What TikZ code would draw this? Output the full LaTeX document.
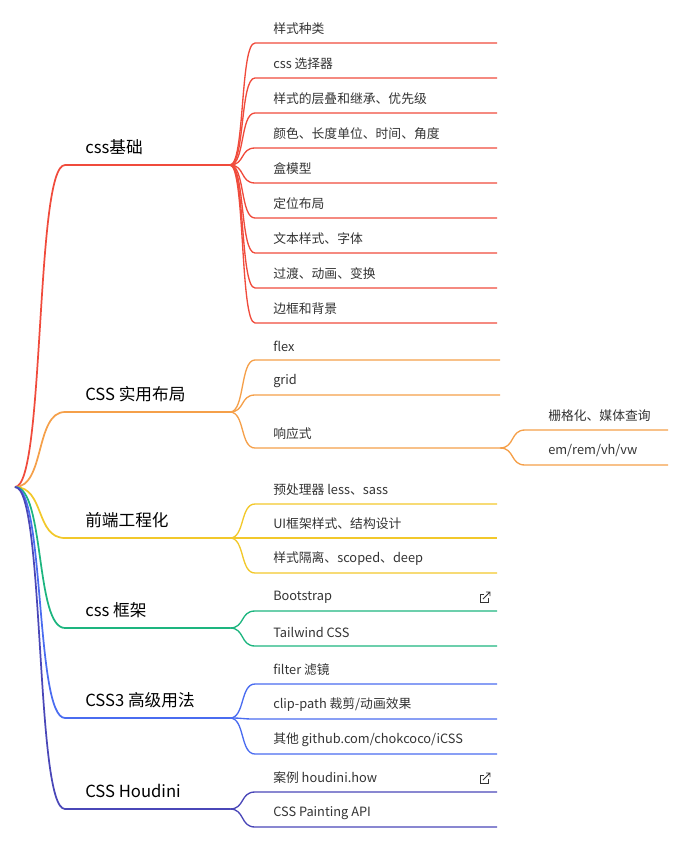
\documentclass[tikz,border=0pt]{standalone}
\usepackage{fontspec}
\setmainfont{Noto Sans CJK SC}
\definecolor{cred}{HTML}{F04B3C}
\definecolor{corange}{HTML}{F5A04A}
\definecolor{cyellow}{HTML}{F2C82B}
\definecolor{cgreen}{HTML}{1DB57F}
\definecolor{cblue}{HTML}{4A6CF0}
\definecolor{cindigo}{HTML}{4A47B8}
\definecolor{ctext}{HTML}{333333}

\begin{document}
\begin{tikzpicture}[x=0.75pt,y=-0.75pt,
    mainlabel/.style={anchor=west,inner sep=0pt,text=black,font=\fontsize{12.5}{14}\selectfont},
    childlabel/.style={anchor=west,inner sep=0pt,text=ctext,font=\fontsize{9.6}{11}\selectfont},
    branch/.style={line width=1.3pt},
    twig/.style={line width=1pt}]
    \useasboundingbox (0,0) rectangle (688,857);
    \coordinate (root) at (15,487);

    % css基础
    \begin{scope}[draw=cred,color=cred]
        \coordinate (b1) at (65,165); \coordinate (b1e) at (230,165);
        \node [mainlabel] (base) at (85,147) {css基础};
        \draw [branch] (root) .. controls (45,487) and (35,165) .. (b1) -- (b1e);
        \foreach \y/\t [count=\i] in {29/样式种类,64/css 选择器,99/样式的层叠和继承、优先级,134/颜色、长度单位、时间、角度,169/盒模型,204/定位布局,239/文本样式、字体,274/过渡、动画、变换,309/边框和背景}{
            \node [childlabel] (base\i) at (273,\y) {\t};
            \draw [twig] (b1e) .. controls (245,165) and (240,\y+14) .. (255,\y+14) -- (497,\y+14);
        }
    \end{scope}

    % CSS 实用布局
    \begin{scope}[draw=corange,color=corange]
        \coordinate (b2) at (65,412); \coordinate (b2e) at (230,412);
        \node [mainlabel] (layout) at (85,394) {CSS 实用布局};
        \draw [branch] (root) .. controls (45,487) and (35,412) .. (b2) -- (b2e);
        \foreach \y/\t [count=\i] in {346/flex,381/grid,434/响应式}{
            \node [childlabel] (layout\i) at (273,\y) {\t};
            \draw [twig] (b2e) .. controls (245,412) and (240,\y+14) .. (255,\y+14) -- (500,\y+14);
        }
        \coordinate (rwd) at (500,448);
        \foreach \y/\t [count=\i] in {416/栅格化、媒体查询,451/{em/rem/vh/vw}}{
            \node [childlabel] (rwd\i) at (548,\y) {\t};
            \draw [twig] (rwd) .. controls (515,448) and (510,\y+14) .. (525,\y+14) -- (668,\y+14);
        }
    \end{scope}

    % 前端工程化
    \begin{scope}[draw=cyellow,color=cyellow]
        \coordinate (b3) at (65,538); \coordinate (b3e) at (230,538);
        \node [mainlabel] (eng) at (85,520) {前端工程化};
        \draw [branch] (root) .. controls (45,487) and (35,538) .. (b3) -- (b3e);
        \foreach \y/\t [count=\i] in {490/预处理器 less、sass,524/UI框架样式、结构设计,559/样式隔离、scoped、deep}{
            \node [childlabel] (eng\i) at (273,\y) {\t};
            \draw [twig] (b3e) .. controls (245,538) and (240,\y+14) .. (255,\y+14) -- (497,\y+14);
        }
    \end{scope}

    % css 框架
    \begin{scope}[draw=cgreen,color=cgreen]
        \coordinate (b4) at (65,628); \coordinate (b4e) at (230,628);
        \node [mainlabel] (frame) at (85,610) {css 框架};
        \draw [branch] (root) .. controls (45,487) and (35,628) .. (b4) -- (b4e);
        \foreach \y/\t [count=\i] in {597/Bootstrap,632/Tailwind CSS}{
            \node [childlabel] (frame\i) at (273,\y) {\t};
            \draw [twig] (b4e) .. controls (245,628) and (240,\y+14) .. (255,\y+14) -- (497,\y+14);
        }
    \end{scope}

    % CSS3 高级用法
    \begin{scope}[draw=cblue,color=cblue]
        \coordinate (b5) at (65,718); \coordinate (b5e) at (230,718);
        \node [mainlabel] (adv) at (85,700) {CSS3 高级用法};
        \draw [branch] (root) .. controls (45,487) and (35,718) .. (b5) -- (b5e);
        \foreach \y/\t [count=\i] in {670/filter 滤镜,705/{clip-path 裁剪/动画效果},740/{其他 github.com/chokcoco/iCSS}}{
            \node [childlabel] (adv\i) at (273,\y) {\t};
            \draw [twig] (b5e) .. controls (245,718) and (240,\y+14) .. (255,\y+14) -- (497,\y+14);
        }
    \end{scope}

    % CSS Houdini
    \begin{scope}[draw=cindigo,color=cindigo]
        \coordinate (b6) at (65,809); \coordinate (b6e) at (230,809);
        \node [mainlabel] (houdini) at (85,791) {CSS Houdini};
        \draw [branch] (root) .. controls (45,487) and (35,809) .. (b6) -- (b6e);
        \foreach \y/\t [count=\i] in {778/案例 houdini.how,813/CSS Painting API}{
            \node [childlabel] (houdini\i) at (273,\y) {\t};
            \draw [twig] (b6e) .. controls (245,809) and (240,\y+14) .. (255,\y+14) -- (497,\y+14);
        }
    \end{scope}

    % link icons
    \foreach \y in {597,778}{
        \draw [ctext,line width=0.6pt] (484,\y-3) -- (480,\y-3) -- (480,\y+5) -- (488,\y+5) -- (488,\y+1);
        \draw [ctext,line width=0.6pt] (483,\y+2) -- (490,\y-5) (486,\y-5) -- (490,\y-5) -- (490,\y-1);
    }
\end{tikzpicture}
\end{document}
